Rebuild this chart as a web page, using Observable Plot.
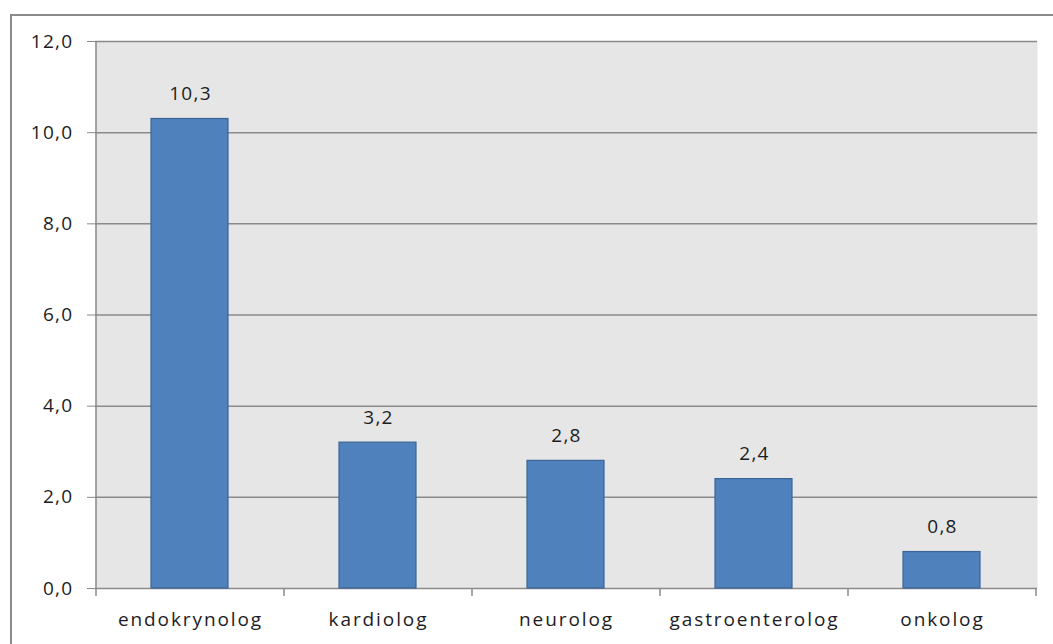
<!DOCTYPE html>
<html><head><meta charset="utf-8">
<script src="https://cdn.jsdelivr.net/npm/d3@7"></script>
<script src="https://cdn.jsdelivr.net/npm/@observablehq/plot@0.6"></script>
<style>
html,body{margin:0;padding:0;background:#fff;}
#wrap{position:relative;width:1053px;height:644px;overflow:hidden;}
#border{position:absolute;left:10px;top:14px;width:1100px;height:700px;border:2px solid #8a8a8a;box-sizing:border-box;}
#chart{position:absolute;left:0;top:0;}
#chart svg text{letter-spacing:1.3px;}
#chart svg g.xlab text{letter-spacing:1.9px;}
</style></head>
<body>
<div id="wrap"><div id="border"></div><div id="chart"></div></div>
<script>
const categories = ["endokrynolog", "kardiolog", "neurolog", "gastroenterolog", "onkolog"];
const values = [10.3, 3.2, 2.8, 2.4, 0.8];
const yTicks = [0, 2, 4, 6, 8, 10, 12];

const data = categories.map((c, i) => ({category: c, value: values[i]}));
const fmt = d => d.toFixed(1).replace(".", ",");
const font = "'Open Sans', sans-serif";

// category boundary tick marks below the x axis
function boundaryTicks(index, scales, values, dimensions) {
  const g = d3.create("svg:g");
  const x = scales.x;
  const y0 = scales.y(0);
  const edges = categories.map(c => x(c)).concat([x(categories[categories.length - 1]) + x.bandwidth()]);
  g.selectAll("line").data(edges).join("line")
    .attr("x1", d => d).attr("x2", d => d)
    .attr("y1", y0).attr("y2", y0 + 8)
    .attr("stroke", "#8a8a8a").attr("stroke-width", 1.5);
  g.append("line").attr("x1", x(categories[0])).attr("x2", x(categories[0]))
    .attr("y1", scales.y(12)).attr("y2", y0)
    .attr("stroke", "#8a8a8a").attr("stroke-width", 1.5);
  return g.node();
}

const chart = Plot.plot({
  width: 1053,
  height: 644,
  marginLeft: 95,
  marginRight: 16,
  marginTop: 41,
  marginBottom: 56,
  style: {fontFamily: font, fontSize: "19px", color: "#1c1c24", background: "transparent"},
  x: {domain: categories, padding: 0, label: null},
  y: {domain: [0, 12], label: null},
  marks: [
    Plot.frame({fill: "#e6e6e6", stroke: null}),
    Plot.ruleY(yTicks, {stroke: "#8a8a8a", strokeWidth: 1.5}),
    Plot.barY(data, {x: "category", y: "value", fill: "#4f81bd", stroke: "#3b6596", strokeWidth: 1.2, insetLeft: 55, insetRight: 56}),
    Plot.text(data, {x: "category", y: "value", text: d => fmt(d.value), dy: -25, fill: "#1c1c24", fontSize: 19}),
    Plot.axisY({ticks: yTicks, tickFormat: fmt, tickSize: 8, tickPadding: 14, stroke: "#8a8a8a", fontSize: 19}),
    Plot.axisX({tickSize: 0, tickPadding: 24, fontSize: 19, className: "xlab"}),
    boundaryTicks
  ]
});
chart.querySelectorAll("g[aria-label='x-axis tick label']").forEach(g => g.classList.add("xlab"));
document.getElementById("chart").appendChild(chart);
</script>
</body></html>
